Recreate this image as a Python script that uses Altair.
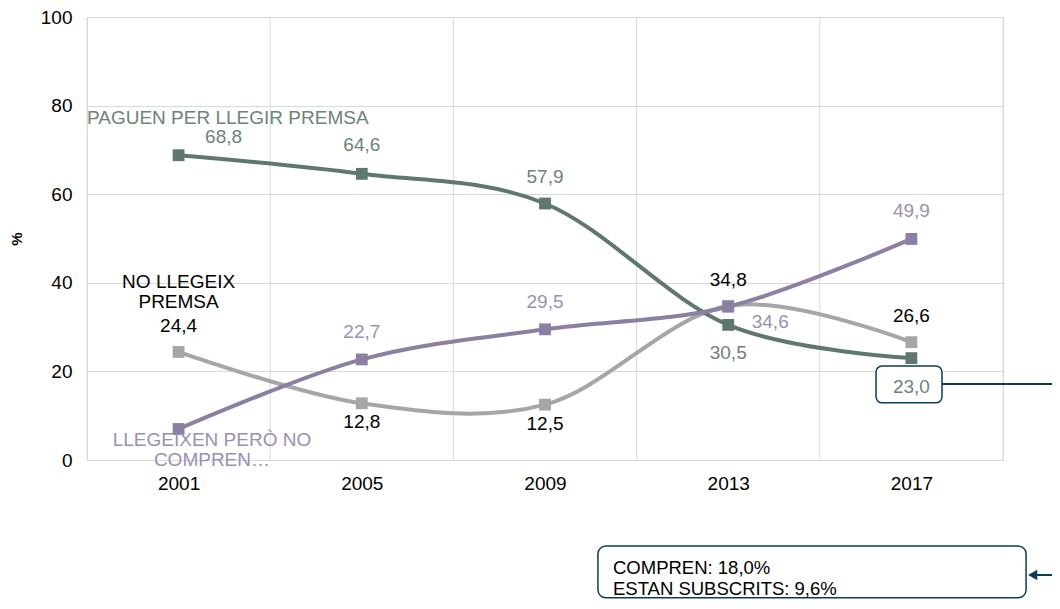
import json
import altair as alt
import pandas as pd

# ---------------- data ----------------
years = ["2001", "2005", "2009", "2013", "2017"]
paguen = [68.8, 64.6, 57.9, 30.5, 23.0]          # PAGUEN PER LLEGIR PREMSA
no_llegeix = [24.4, 12.8, 12.5, 34.8, 26.6]      # NO LLEGEIX PREMSA
no_compren = [7.0, 22.7, 29.5, 34.6, 49.9]       # LLEGEIXEN PERÒ NO COMPREN
name_paguen = ["PAGUEN PER LLEGIR PREMSA"]
name_no_llegeix = ["NO LLEGEIX", "PREMSA"]
name_no_compren = ["LLEGEIXEN PERÒ NO", "COMPREN…"]
callout_lines = ["COMPREN: 18,0%", "ESTAN SUBSCRITS: 9,6%"]
y_ticks = [0, 20, 40, 60, 80, 100]

# ---------------- styles ----------------
C_GREEN = "#5f786d"
C_GREEN_TXT = "#6c8379"
C_GRAY = "#a6a6a6"
C_PURPLE = "#8b7fa2"
C_PURPLE_TXT = "#9a90b2"
C_GRID = "#d9d9d9"
C_BOX = "#0f3a57"
FONT = "Liberation Sans"
FS = 19

# label offsets in pixels (dx, dy); None = no label
off_paguen = [(45, -18), (0, -29), (0, -27), (0, 28), (0, 29)]
off_gray = [(0, -26), (0, 19), (0, 19), (0, -26), (0, -26)]
off_purple = [None, (0, -27), (0, -27), (42, 15), (0, -28)]

xs = list(range(len(years)))
X = alt.X("x:Q",
          scale=alt.Scale(domain=[-0.5, len(years) - 0.5], nice=False, zero=False),
          axis=alt.Axis(values=xs, labelExpr=json.dumps(years) + "[datum.value]",
                        grid=False, ticks=False, tickSize=0, domain=False,
                        labelPadding=14, labelFontSize=FS, labelColor="black",
                        labelFont=FONT, title=None))
Y = alt.Y("y:Q",
          scale=alt.Scale(domain=[0, 100], nice=False),
          axis=alt.Axis(values=y_ticks, grid=True, gridColor=C_GRID, ticks=False,
                        tickSize=0, domain=False, labelPadding=15, labelFontSize=FS,
                        labelColor="black", labelFont=FONT, title="%",
                        titleFontSize=15, titleFontWeight="bold", titleFont=FONT,
                        titleColor="black", titlePadding=16))

layers = []

# vertical grid lines at category boundaries
bounds = pd.DataFrame({"x": [i - 0.5 for i in range(len(years) + 1)]})
layers.append(alt.Chart(bounds).mark_rule(color=C_GRID, strokeWidth=1).encode(x=X))


def series_layers(vals, color):
    df = pd.DataFrame({"x": xs, "y": vals})
    line = alt.Chart(df).mark_line(interpolate="cardinal", strokeWidth=4,
                                   color=color).encode(x=X, y=Y)
    pts = alt.Chart(df).mark_point(shape="square", filled=True, size=140,
                                   opacity=1, color=color).encode(x=X, y=Y)
    return [line, pts]


layers += series_layers(no_llegeix, C_GRAY)
layers += series_layers(paguen, C_GREEN)
layers += series_layers(no_compren, C_PURPLE)

# callout box around the last green value + connector line
conn = pd.DataFrame({"x": [4.167], "x2": [4.82], "y": [17.16]})
layers.append(alt.Chart(conn).mark_rule(color=C_BOX, strokeWidth=2).encode(
    x=X, x2="x2:Q", y=Y))
box1 = pd.DataFrame({"x": [3.807], "x2": [4.167], "y": [21.2], "y2": [12.9]})
layers.append(alt.Chart(box1).mark_rect(fill="white", stroke=C_BOX, strokeWidth=1.5,
                                        cornerRadius=6).encode(
    x=X, x2="x2:Q", y=Y, y2="y2:Q"))

# bottom callout box
box2 = pd.DataFrame({"x": [2.289], "x2": [4.626], "y": [-19.4], "y2": [-31.1]})
layers.append(alt.Chart(box2).mark_rect(fill="white", stroke=C_BOX, strokeWidth=1.5,
                                        cornerRadius=8).encode(
    x=X, x2="x2:Q", y=Y, y2="y2:Q"))
arr = pd.DataFrame({"x": [4.66], "x2": [4.82], "y": [-25.96]})
layers.append(alt.Chart(arr).mark_rule(color=C_BOX, strokeWidth=2).encode(
    x=X, x2="x2:Q", y=Y))
layers.append(alt.Chart(pd.DataFrame({"x": [4.662], "y": [-25.96]})).mark_point(
    shape="triangle-left", filled=True, size=110, opacity=1, color=C_BOX).encode(x=X, y=Y))


def text_block(lines, x, y_first, step_px, color, align, fs, dx=0):
    out = []
    for k, ln in enumerate(lines):
        d = pd.DataFrame({"x": [x], "y": [y_first], "t": [ln]})
        out.append(alt.Chart(d).mark_text(align=align, baseline="middle", font=FONT,
                                          fontSize=fs, color=color, dx=dx,
                                          dy=k * step_px).encode(x=X, y=Y, text="t:N"))
    return out


layers += text_block(callout_lines, 2.371, -24.4, 21, "black", "left", 18.5)


def fmt(v):
    return f"{v:.1f}".replace(".", ",")


def label_layers(vals, offs, color):
    out = []
    for i, (v, o) in enumerate(zip(vals, offs)):
        if o is None:
            continue
        d = pd.DataFrame({"x": [xs[i]], "y": [v], "t": [fmt(v)]})
        out.append(alt.Chart(d).mark_text(dx=o[0], dy=o[1], font=FONT, fontSize=FS,
                                          color=color, baseline="middle",
                                          align="center").encode(x=X, y=Y, text="t:N"))
    return out


layers += label_layers(paguen, off_paguen, C_GREEN_TXT)
layers += label_layers(no_llegeix, off_gray, "black")
layers += label_layers(no_compren, off_purple, C_PURPLE_TXT)

# series name labels
layers += text_block(name_paguen, -0.5, 77.2, 20, C_GREEN_TXT, "left", FS)
layers += text_block(name_no_llegeix, 0.0, 40.2, 20, "black", "center", FS)
layers += text_block(name_no_compren, 0.182, 4.5, 20, C_PURPLE_TXT, "center", FS)

chart = alt.layer(*layers).properties(
    width=916, height=443,
    autosize=alt.AutoSizeParams(type="none"),
    padding={"left": 79, "top": 9, "right": 49, "bottom": 141},
).configure_view(stroke=C_GRID).configure(font=FONT, background="white")

chart.save("out.html", embed_options={"renderer": "svg", "actions": False})
